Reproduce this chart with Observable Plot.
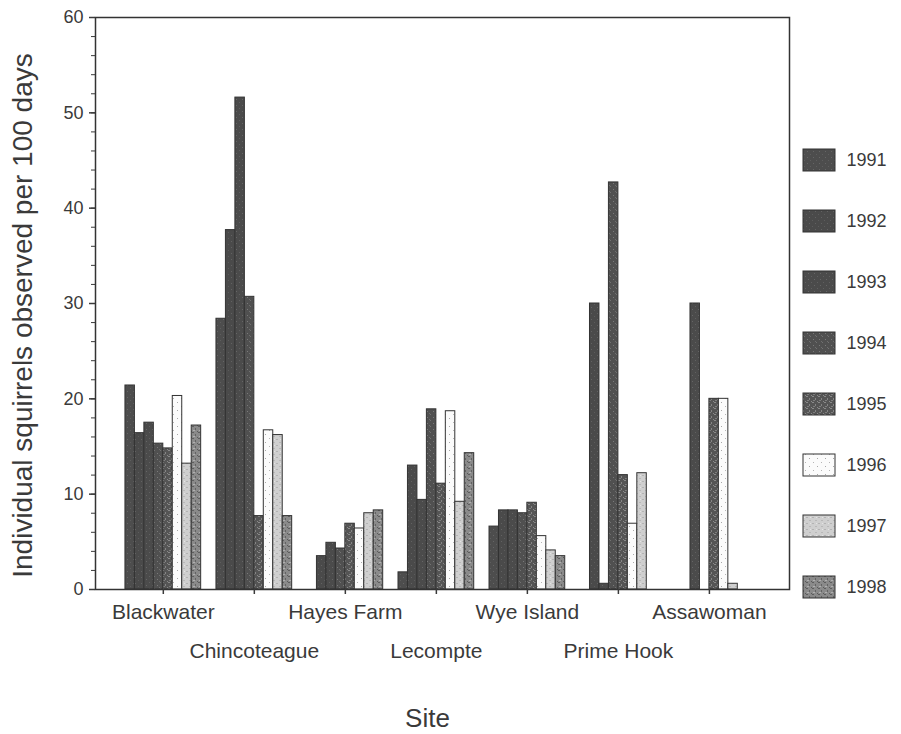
<!DOCTYPE html>
<html>
<head>
<meta charset="utf-8">
<script src="https://cdn.jsdelivr.net/npm/d3@7"></script>
<script src="https://cdn.jsdelivr.net/npm/@observablehq/plot@0.6"></script>
<style>
  body { margin: 0; background: #fff; }
  #chart { position: relative; width: 901px; height: 734px; font-family: "Liberation Sans", Arial, sans-serif; }
  #main { position: absolute; left: 0; top: 0; }
  #legend { position: absolute; left: 800px; top: 0; }
</style>
</head>
<body>
<!-- Speckled fills for each survey year -->
<svg width="0" height="0" style="position:absolute">
  <defs>
    <pattern id="fill1991" width="6" height="6" patternUnits="userSpaceOnUse">
      <rect width="6" height="6" fill="#4d4d4d"/>
      <rect x="1" y="1" width="1" height="1" fill="#666"/>
      <rect x="4" y="4" width="1" height="1" fill="#5e5e5e"/>
    </pattern>
    <pattern id="fill1992" width="6" height="6" patternUnits="userSpaceOnUse">
      <rect width="6" height="6" fill="#4a4a4a"/>
      <rect x="3" y="1" width="1" height="1" fill="#626262"/>
      <rect x="0" y="4" width="1" height="1" fill="#5c5c5c"/>
    </pattern>
    <pattern id="fill1993" width="6" height="6" patternUnits="userSpaceOnUse">
      <rect width="6" height="6" fill="#4b4b4b"/>
      <rect x="2" y="3" width="1" height="1" fill="#666"/>
      <rect x="5" y="0" width="1" height="1" fill="#606060"/>
    </pattern>
    <pattern id="fill1994" width="6" height="6" patternUnits="userSpaceOnUse">
      <rect width="6" height="6" fill="#505050"/>
      <rect x="1" y="3" width="1" height="1" fill="#7a7a7a"/>
      <rect x="4" y="0" width="1" height="1" fill="#727272"/>
      <rect x="3" y="5" width="1" height="1" fill="#6e6e6e"/>
    </pattern>
    <pattern id="fill1995" width="6" height="6" patternUnits="userSpaceOnUse">
      <rect width="6" height="6" fill="#555"/>
      <rect x="0" y="0" width="2" height="1" fill="#8a8a8a"/>
      <rect x="3" y="2" width="1" height="2" fill="#858585"/>
      <rect x="1" y="4" width="2" height="1" fill="#7e7e7e"/>
      <rect x="5" y="5" width="1" height="1" fill="#8a8a8a"/>
    </pattern>
    <pattern id="fill1996" width="8" height="8" patternUnits="userSpaceOnUse">
      <rect width="8" height="8" fill="#fbfbfb"/>
      <rect x="1" y="2" width="1" height="1" fill="#a8a8a8"/>
      <rect x="5" y="6" width="1" height="1" fill="#b5b5b5"/>
    </pattern>
    <pattern id="fill1997" width="6" height="6" patternUnits="userSpaceOnUse">
      <rect width="6" height="6" fill="#cfcfcf"/>
      <rect x="0" y="1" width="2" height="1" fill="#b3b3b3"/>
      <rect x="3" y="4" width="2" height="1" fill="#b8b8b8"/>
      <rect x="4" y="1" width="1" height="1" fill="#e4e4e4"/>
    </pattern>
    <pattern id="fill1998" width="6" height="6" patternUnits="userSpaceOnUse">
      <rect width="6" height="6" fill="#8a8a8a"/>
      <rect x="0" y="0" width="2" height="1" fill="#5e5e5e"/>
      <rect x="3" y="2" width="1" height="2" fill="#636363"/>
      <rect x="1" y="4" width="2" height="1" fill="#b0b0b0"/>
      <rect x="5" y="5" width="1" height="1" fill="#5a5a5a"/>
    </pattern>
  </defs>
</svg>

<div id="chart"><div id="main"></div><div id="legend"></div></div>

<script>
// Survey sites, in plotting order
const sites = ["Blackwater", "Chincoteague", "Hayes Farm", "Lecompte", "Wye Island", "Prime Hook", "Assawoman"];

// Survey years (one bar per year within each site)
const years = [1991, 1992, 1993, 1994, 1995, 1996, 1997, 1998];

// Individual squirrels observed per 100 days, per year, in site order
const obs1991 = [21.4, 28.4, 0.0, 1.8, 6.6, 0.0, 0.0];
const obs1992 = [16.4, 37.7, 3.5, 13.0, 8.3, 30.0, 0.0];
const obs1993 = [17.5, 51.6, 4.9, 9.4, 8.3, 0.6, 30.0];
const obs1994 = [15.3, 30.7, 4.3, 18.9, 8.0, 42.7, 0.0];
const obs1995 = [14.8, 7.7, 6.9, 11.1, 9.1, 12.0, 20.0];
const obs1996 = [20.3, 16.7, 6.4, 18.7, 5.6, 6.9, 20.0];
const obs1997 = [13.2, 16.2, 8.0, 9.2, 4.1, 12.2, 0.6];
const obs1998 = [17.2, 7.7, 8.3, 14.3, 3.5, 0.0, 0.0];

// Y axis ticks
const yTicks = [0, 10, 20, 30, 40, 50, 60];
const yMinorTicks = d3.range(0, 61, 2);

const series = [obs1991, obs1992, obs1993, obs1994, obs1995, obs1996, obs1997, obs1998];

// Long table: one row per site × year
const table = years.flatMap((year, j) =>
  series[j].map((value, i) => ({site: sites[i], si: i, year, yi: j, value}))
);
const siteRows = sites.map((name, i) => ({name, i}));

// Fill for each year (pattern defined in the page's <defs>)
const fillOf = year => `url(#fill${year})`;

// Bars sit side by side; each bar takes this fraction of the site spacing
const barWidth = 0.104;
const nYears = years.length;

const font = '"Liberation Sans", Arial, sans-serif';
const ink = "#3a3a3a";

const main = Plot.plot({
  width: 901,
  height: 734,
  marginLeft: 95,
  marginRight: 112,
  marginTop: 17,
  marginBottom: 145,
  style: {fontFamily: font, fontSize: "18px", color: ink, background: "transparent"},
  x: {type: "linear", domain: [-0.745, sites.length - 1 + 0.88], axis: null},
  y: {domain: [0, 60], axis: null},
  color: {type: "identity"},
  marks: [
    Plot.rect(table.filter(d => d.value > 0), {
      x1: d => d.si + (d.yi - nYears / 2) * barWidth,
      x2: d => d.si + (d.yi - nYears / 2 + 1) * barWidth,
      y1: 0,
      y2: "value",
      fill: d => fillOf(d.year),
      stroke: "#333",
      strokeWidth: 1
    }),
    Plot.frame({stroke: "#333", strokeWidth: 1.5}),
    // y axis: labelled major ticks and small minor ticks
    Plot.axisY({ticks: yTicks, tickSize: 6, tickPadding: 6, strokeWidth: 1.5, fontSize: 18, label: null}),
    Plot.axisY({ticks: yMinorTicks, tickSize: 4, tickFormat: () => "", label: null}),
    // tick marks under each site group
    Plot.axisX({ticks: d3.range(sites.length), tickSize: 5, tickFormat: () => "", label: null, strokeWidth: 1.5}),
    // site names in two staggered rows
    Plot.text(siteRows.filter(d => d.i % 2 === 0), {x: "i", text: "name", frameAnchor: "bottom", dy: 29, fontSize: 21, fill: ink}),
    Plot.text(siteRows.filter(d => d.i % 2 === 1), {x: "i", text: "name", frameAnchor: "bottom", dy: 68, fontSize: 21, fill: ink}),
    // axis titles
    Plot.text(["Site"], {frameAnchor: "bottom", dy: 137, dx: -15, fontSize: 26, fill: ink}),
    Plot.text(["Individual squirrels observed per 100 days"], {
      frameAnchor: "left", textAnchor: "middle", rotate: -90, dx: -72, dy: 12, fontSize: 28, fill: ink
    })
  ]
});

const legend = Plot.plot({
  width: 101,
  height: 734,
  margin: 0,
  style: {fontFamily: font, fontSize: "18px", color: ink, background: "transparent"},
  x: {domain: [0, 1], range: [3, 35], axis: null},
  y: {type: "band", domain: years, range: [129, 617], paddingInner: 0.64, paddingOuter: 0.32, axis: null},
  color: {type: "identity"},
  marks: [
    Plot.barX(years, {x1: 0, x2: 1, y: d => d, fill: d => fillOf(d), stroke: "#333", strokeWidth: 1}),
    Plot.text(years, {x: 1, y: d => d, text: d => String(d), dx: 11, textAnchor: "start", fontSize: 18, fill: ink})
  ]
});

document.getElementById("main").append(main);
document.getElementById("legend").append(legend);
</script>
</body>
</html>
